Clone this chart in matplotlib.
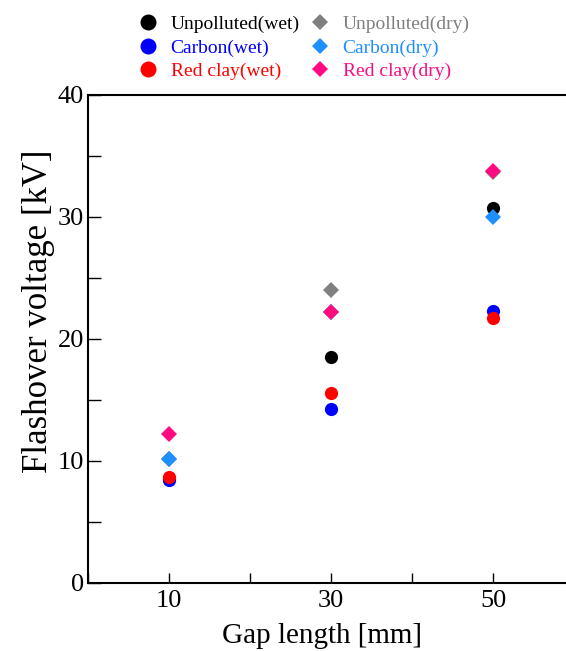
import numpy as np
import matplotlib.pyplot as plt
from matplotlib.ticker import MultipleLocator

plt.rcParams['font.family'] = ['Liberation Serif', 'DejaVu Serif']

# data
gap = [10, 30, 50]
unpolluted_wet = [8.5, 18.5, 30.7]
carbon_wet = [8.4, 14.3, 22.3]
redclay_wet = [8.7, 15.6, 21.7]
unpolluted_dry = [10.2, 24.0, 33.7]
carbon_dry = [10.2, 22.2, 30.0]
redclay_dry = [12.2, 22.2, 33.8]

labels = ["Unpolluted(wet)", "Carbon(wet)", "Red clay(wet)",
          "Unpolluted(dry)", "Carbon(dry)", "Red clay(dry)"]
series = [unpolluted_wet, carbon_wet, redclay_wet,
          unpolluted_dry, carbon_dry, redclay_dry]
colors = ["black", "#0000ff", "#ff0000", "#808080", "#1e8fff", "#ff0a80"]
markers = ["o", "o", "o", "D", "D", "D"]
sizes = [9.5, 9.5, 9.5, 8, 8, 8]

fig = plt.figure(figsize=(5.66, 6.51), dpi=100)
ax = fig.add_axes([0.1555, 0.1045, 0.8587, 0.7496])

for s, lab, c, m, ms in zip(series, labels, colors, markers, sizes):
    ax.plot(gap, s, linestyle="none", marker=m, color=c, markersize=ms,
            markeredgewidth=0, label=lab)

ax.set_xlim(0, 60)
ax.set_ylim(0, 40)
ax.set_xticks(gap)
ax.xaxis.set_minor_locator(MultipleLocator(10))
ax.yaxis.set_major_locator(MultipleLocator(10))
ax.yaxis.set_minor_locator(MultipleLocator(5))
ax.tick_params(which="both", direction="in", labelsize=19, width=1.0)
ax.tick_params(axis="y", which="major", length=9, pad=3)
ax.tick_params(axis="y", which="minor", length=9)
ax.tick_params(axis="x", which="major", length=7, pad=5)
ax.tick_params(axis="x", which="minor", length=7)
ax.spines["right"].set_visible(False)
for sp in ["left", "bottom", "top"]:
    ax.spines[sp].set_linewidth(1.5)

ax.set_xlabel("Gap length [mm]", fontsize=21)
ax.set_ylabel("Flashover voltage [kV]", fontsize=25)
ax.xaxis.set_label_coords(0.4815, -0.082)
ax.yaxis.set_label_coords(-0.068, 0.557)

leg = fig.legend(loc="upper left", bbox_to_anchor=(0.207, 1.003), ncol=2,
                 frameon=False, fontsize=14, labelcolor=colors,
                 handletextpad=0.45, columnspacing=0.35, labelspacing=0.3,
                 handlelength=1.4)
for h, m in zip(leg.legend_handles, markers):
    h.set_markersize(11.5 if m == "o" else 8)

fig.savefig("out.png", dpi=100)
